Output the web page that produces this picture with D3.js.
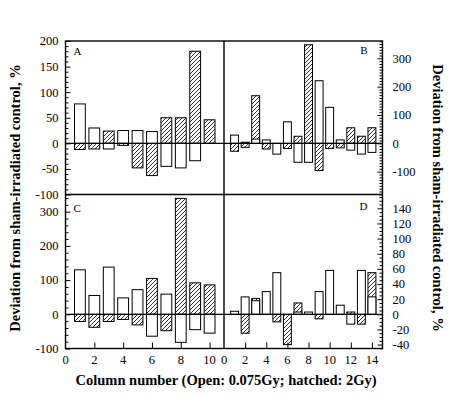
<!DOCTYPE html>
<html><head><meta charset="utf-8">
<script src="https://cdn.jsdelivr.net/npm/d3@7"></script>
<style>
html,body{margin:0;padding:0;background:#fff;}
svg text{font-family:"Liberation Serif","Times New Roman",serif;fill:#000;}
</style>
</head><body>
<svg id="chart" width="450" height="397"></svg>
<script>
// ---- data ----
const colsLeft = [1,2,3,4,5,6,7,8,9,10];
const colsRight = [1,2,3,4,5,6,7,8,9,10,11,12,13,14];
const openA  = [77, 30, -11, 25, 25, 23, -45, -48, -34, 0];
const hatchA = [-12, -11, 24, -4, -48, -63, 50, 50, 180, 46];
const openB  = [29, 4, 15, 12, -38, 76, -67, -67, 221, 127, 12, -24, -38, -32];
const hatchB = [-28, -14, 168, -20, 0, -18, 25, 348, -96, -18, -16, 55, 25, 55];
const openC  = [130, 55, 138, 48, 72, -64, 59, -82, -45, -55];
const hatchC = [-21, -38, -21, -15, -31, 105, -48, 339, 92, 86];
const openD  = [4, 23, 18, 30, 55, 0, 3, 3, 30, 58, 12, -13, 58, 23];
const hatchD = [0, -25, 21, 0, -10, -40, 15, 0, -6, 0, 0, 3, -13, 55];
const ticksA = [-100, -50, 0, 50, 100, 150, 200];
const ticksB = [-100, 0, 100, 200, 300];
const ticksC = [-100, 0, 100, 200, 300];
const ticksD = [-40, -20, 0, 20, 40, 60, 80, 100, 120, 140];
const xTicksLeft = [0, 2, 4, 6, 8, 10];
const xTicksRight = [0, 2, 4, 6, 8, 10, 12, 14];
const panelLabels = ["A", "B", "C", "D"];
const yTitle = "Deviation from sham-irradiated control, %";
const xTitle = "Column number (Open: 0.075Gy; hatched: 2Gy)";

// ---- layout ----
const L = 65.5, M = 224, R = 382.5, T = 41, H = 194.5, B = 348.5;
const svg = d3.select("#chart");

const defs = svg.append("defs");
const pat = defs.append("pattern").attr("id","hatch").attr("patternUnits","userSpaceOnUse")
  .attr("width",4).attr("height",4);
pat.append("rect").attr("width",4).attr("height",4).attr("fill","#fff");
pat.append("path").attr("d","M-1,1 l2,-2 M0,4 l4,-4 M3,5 l2,-2")
  .attr("stroke","#222").attr("stroke-width",0.9);

const xL = d3.scaleLinear().domain([0,11]).range([L, M]);
const xR = d3.scaleLinear().domain([0,15]).range([M, R]);
const yA = d3.scaleLinear().domain([-100,200]).range([H, T]);
const yB = d3.scaleLinear().domain([0,300]).range([yA(0), yA(0)-85]);
const yC = d3.scaleLinear().domain([-100,300]).range([B, 211.7]);
const yD = d3.scaleLinear().domain([0,140]).range([yC(0), yC(0)-106]);

function bars(x, y, cols, openV, hatchV){
  const bw = (x(1)-x(0))*0.75;
  const g = svg.append("g");
  const rect = (vals, fill) => g.selectAll(null).data(cols.map((c,i)=>({c, v: vals[i]})).filter(d=>d.v!==0))
    .enter().append("rect")
    .attr("x", d=>x(d.c)-bw/2)
    .attr("width", bw)
    .attr("y", d=>Math.min(y(0), y(d.v)))
    .attr("height", d=>Math.abs(y(d.v)-y(0)))
    .attr("fill", fill).attr("stroke","#000").attr("stroke-width",1);
  rect(hatchV, "url(#hatch)");
  rect(openV, "#fff");
}
bars(xL, yA, colsLeft, openA, hatchA);
bars(xR, yB, colsRight, openB, hatchB);
bars(xL, yC, colsLeft, openC, hatchC);
bars(xR, yD, colsRight, openD, hatchD);

// zero lines
[yA(0), yC(0)].forEach(z => svg.append("line").attr("x1",L).attr("x2",R).attr("y1",z).attr("y2",z)
  .attr("stroke","#000").attr("stroke-width",1.2));

// frame
svg.append("rect").attr("x",L).attr("y",T).attr("width",R-L).attr("height",B-T)
  .attr("fill","none").attr("stroke","#000").attr("stroke-width",1.4);
svg.append("line").attr("x1",M).attr("x2",M).attr("y1",T).attr("y2",B).attr("stroke","#000").attr("stroke-width",1.4);
svg.append("line").attr("x1",L).attr("x2",R).attr("y1",H).attr("y2",H).attr("stroke","#000").attr("stroke-width",1.6);

// y axes (ticks inward) via d3 axes
function yAxis(scale, ticks, minorStep, side, top, bottom){
  const lo = scale.invert(bottom), hi = scale.invert(top);
  const minors = d3.range(Math.ceil(lo/minorStep)*minorStep, hi+0.001, minorStep)
    .filter(v => !ticks.includes(v));
  const xPos = side === "left" ? L : R;
  const inward = side === "left" ? d3.axisRight : d3.axisLeft;
  const gMaj = svg.append("g").attr("transform",`translate(${xPos},0)`)
    .call(inward(scale).tickValues(ticks).tickSize(5).tickFormat(""));
  const gMin = svg.append("g").attr("transform",`translate(${xPos},0)`)
    .call(inward(scale).tickValues(minors).tickSize(3).tickFormat(""));
  [gMaj, gMin].forEach(g => { g.select(".domain").remove(); g.selectAll("line").attr("stroke","#000"); });
  svg.append("g").selectAll(null).data(ticks).enter().append("text")
    .attr("x", side === "left" ? L-7 : R+10)
    .attr("y", d=>scale(d))
    .attr("dy","0.35em")
    .attr("text-anchor", side === "left" ? "end" : "start")
    .attr("font-size",12.5)
    .text(d=>d);
}
yAxis(yA, ticksA, 10, "left", T, H);
yAxis(yB, ticksB, 10, "right", T, H);
yAxis(yC, ticksC, 20, "left", H, B);
yAxis(yD, ticksD, 5, "right", H, B);

// x axes
function xAxis(scale, ticks){
  const g = svg.append("g").attr("transform",`translate(0,${B})`)
    .call(d3.axisTop(scale).tickValues(ticks.filter(t=>t>0)).tickSize(6).tickFormat(""));
  g.select(".domain").remove();
  g.selectAll("line").attr("stroke","#000");
  svg.append("g").selectAll(null).data(ticks).enter().append("text")
    .attr("x", d=>scale(d)).attr("y", 364)
    .attr("text-anchor","middle").attr("font-size",12.5).text(d=>d);
}
xAxis(xL, xTicksLeft);
xAxis(xR, xTicksRight);

// panel letters
const letterPos = [[L+8, T+14, "start"], [R-15, T+13, "end"], [L+8, H+17, "start"], [R-15, H+15, "end"]];
panelLabels.forEach((t,i)=> svg.append("text").attr("x",letterPos[i][0]).attr("y",letterPos[i][1])
  .attr("text-anchor",letterPos[i][2]).attr("font-size",11).text(t));

// titles
svg.append("text").attr("transform","translate(20,198) rotate(-90)")
  .attr("text-anchor","middle").attr("font-size",14.5).attr("font-weight","bold").text(yTitle);
svg.append("text").attr("transform","translate(433,198) rotate(90)")
  .attr("text-anchor","middle").attr("font-size",14.5).attr("font-weight","bold").text(yTitle);
svg.append("text").attr("x",226).attr("y",385)
  .attr("text-anchor","middle").attr("font-size",14.5).attr("font-weight","bold").text(xTitle);
</script>
</body></html>
